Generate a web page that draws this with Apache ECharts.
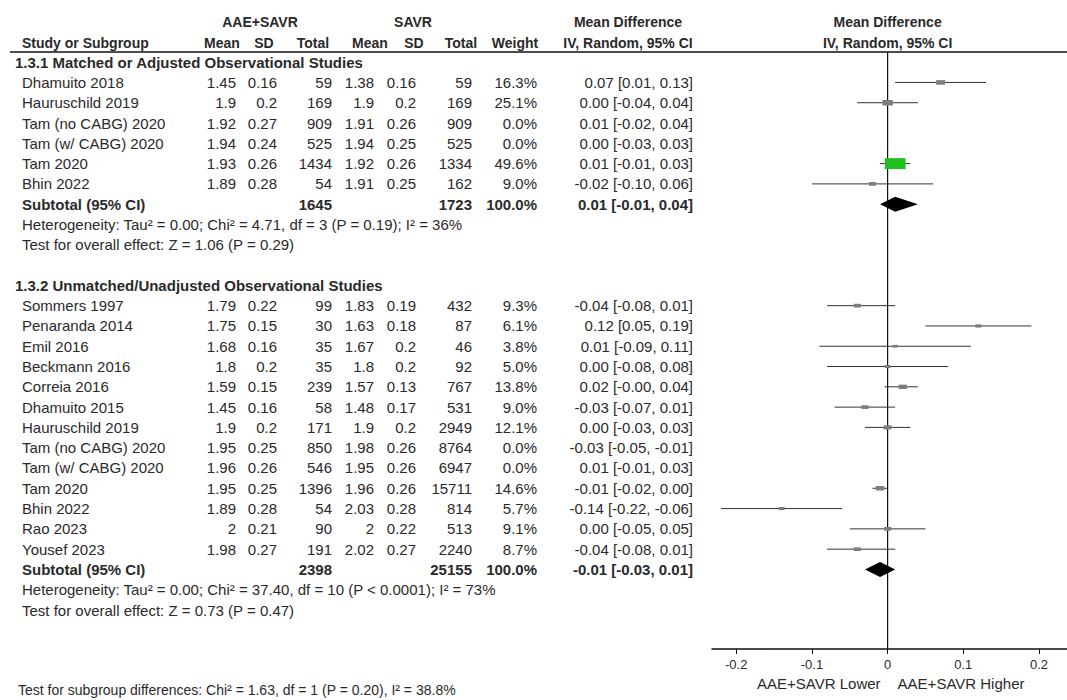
<!DOCTYPE html>
<html>
<head>
<meta charset="utf-8">
<script src="https://cdn.jsdelivr.net/npm/echarts@6/dist/echarts.min.js"></script>
<style>
  html, body { margin: 0; padding: 0; background: #ffffff; }
  #chart { width: 1067px; height: 700px; }
</style>
</head>
<body>
<div id="chart"></div>
<script>
// ---- Subgroup 1.3.1: matched or adjusted observational studies ----
const g1Title = '1.3.1 Matched or Adjusted Observational Studies';
const g1Study = ['Dhamuito 2018', 'Hauruschild 2019', 'Tam (no CABG) 2020', 'Tam (w/ CABG) 2020', 'Tam 2020', 'Bhin 2022'];
const g1ExpMean = [1.45, 1.9, 1.92, 1.94, 1.93, 1.89];
const g1ExpSD = [0.16, 0.2, 0.27, 0.24, 0.26, 0.28];
const g1ExpN = [59, 169, 909, 525, 1434, 54];
const g1CtlMean = [1.38, 1.9, 1.91, 1.94, 1.92, 1.91];
const g1CtlSD = [0.16, 0.2, 0.26, 0.25, 0.26, 0.25];
const g1CtlN = [59, 169, 909, 525, 1334, 162];
const g1Weight = [16.3, 25.1, 0, 0, 49.6, 9.0];
const g1MD = [0.07, 0.00, 0.01, 0.00, 0.01, -0.02];
const g1Low = [0.01, -0.04, -0.02, -0.03, -0.01, -0.10];
const g1High = [0.13, 0.04, 0.04, 0.03, 0.03, 0.06];
const g1Totals = [1645, 1723];
const g1Pooled = [0.01, -0.01, 0.04];
const g1Het = 'Heterogeneity: Tau\u00b2 = 0.00; Chi\u00b2 = 4.71, df = 3 (P = 0.19); I\u00b2 = 36%';
const g1Effect = 'Test for overall effect: Z = 1.06 (P = 0.29)';

// ---- Subgroup 1.3.2: unmatched / unadjusted observational studies ----
const g2Title = '1.3.2 Unmatched/Unadjusted Observational Studies';
const g2Study = ['Sommers 1997', 'Penaranda 2014', 'Emil 2016', 'Beckmann 2016', 'Correia 2016', 'Dhamuito 2015',
  'Hauruschild 2019', 'Tam (no CABG) 2020', 'Tam (w/ CABG) 2020', 'Tam 2020', 'Bhin 2022', 'Rao 2023', 'Yousef 2023'];
const g2ExpMean = [1.79, 1.75, 1.68, 1.8, 1.59, 1.45, 1.9, 1.95, 1.96, 1.95, 1.89, 2, 1.98];
const g2ExpSD = [0.22, 0.15, 0.16, 0.2, 0.15, 0.16, 0.2, 0.25, 0.26, 0.25, 0.28, 0.21, 0.27];
const g2ExpN = [99, 30, 35, 35, 239, 58, 171, 850, 546, 1396, 54, 90, 191];
const g2CtlMean = [1.83, 1.63, 1.67, 1.8, 1.57, 1.48, 1.9, 1.98, 1.95, 1.96, 2.03, 2, 2.02];
const g2CtlSD = [0.19, 0.18, 0.2, 0.2, 0.13, 0.17, 0.2, 0.26, 0.26, 0.26, 0.28, 0.22, 0.27];
const g2CtlN = [432, 87, 46, 92, 767, 531, 2949, 8764, 6947, 15711, 814, 513, 2240];
const g2Weight = [9.3, 6.1, 3.8, 5.0, 13.8, 9.0, 12.1, 0, 0, 14.6, 5.7, 9.1, 8.7];
const g2MD = [-0.04, 0.12, 0.01, 0.00, 0.02, -0.03, 0.00, -0.03, 0.01, -0.01, -0.14, 0.00, -0.04];
const g2Low = [-0.08, 0.05, -0.09, -0.08, -0.004, -0.07, -0.03, -0.05, -0.01, -0.02, -0.22, -0.05, -0.08];
const g2High = [0.01, 0.19, 0.11, 0.08, 0.04, 0.01, 0.03, -0.01, 0.03, 0.00, -0.06, 0.05, 0.01];
const g2Totals = [2398, 25155];
const g2Pooled = [-0.01, -0.03, 0.01];
const g2Het = 'Heterogeneity: Tau\u00b2 = 0.00; Chi\u00b2 = 37.40, df = 10 (P < 0.0001); I\u00b2 = 73%';
const g2Effect = 'Test for overall effect: Z = 0.73 (P = 0.47)';

// ---- Axis and footer ----
const xTicks = [-0.2, -0.1, 0, 0.1, 0.2];
const xTickLabels = ['-0.2', '-0.1', '0', '0.1', '0.2'];
const favoursLeft = 'AAE+SAVR Lower';
const favoursRight = 'AAE+SAVR Higher';
const subgroupTest = 'Test for subgroup differences: Chi\u00b2 = 1.63, df = 1 (P = 0.20), I\u00b2 = 38.8%';

// ---- Layout constants ----
const FONT = "'Liberation Sans', Arial, sans-serif";
const TXT = '#2a2a2a';
const FS = 15;       // body text
const FS_HEAD = 14;  // column headers (bold)
// right edges of the numeric columns
const COL = { name: 22, title: 15, expMean: 236, expSD: 277, expN: 332, ctlMean: 374, ctlSD: 416, ctlN: 472, weight: 537, ci: 693 };
// centres of the column headers
const HEAD = { expMean: 222, expSD: 264, expN: 313, ctlMean: 370, ctlSD: 414, ctlN: 461, weight: 515, ci: 628, exp: 260, ctl: 413 };

const fmt2 = v => v.toFixed(2);
const ciText = (m, l, h) => fmt2(m) + ' [' + fmt2(l) + ', ' + fmt2(h) + ']';

// Table rows, each placed on a row index of the (hidden) y axis
const rows = [];
rows.push({ row: -1.97, kind: 'head1' });
rows.push({ row: -0.93, kind: 'head2' });
rows.push({ row: -0.5, kind: 'rule' });

function addGroup(start, title, study, em, esd, en, cm, csd, cn, w, md, lo, hi, totals, pooled, het, eff) {
  rows.push({ row: start, kind: 'title', text: title });
  study.forEach((s, i) => {
    rows.push({
      row: start + 1 + i, kind: 'study', name: s,
      cells: [String(em[i]), String(esd[i]), String(en[i]), String(cm[i]), String(csd[i]), String(cn[i]),
        w[i].toFixed(1) + '%', ciText(md[i], lo[i], hi[i])]
    });
  });
  const sub = start + 1 + study.length;
  rows.push({ row: sub, kind: 'subtotal', expN: totals[0], ctlN: totals[1], ci: ciText(pooled[0], pooled[1], pooled[2]) });
  rows.push({ row: sub + 1, kind: 'note', text: het });
  rows.push({ row: sub + 2, kind: 'note', text: eff });
}
addGroup(0, g1Title, g1Study, g1ExpMean, g1ExpSD, g1ExpN, g1CtlMean, g1CtlSD, g1CtlN, g1Weight, g1MD, g1Low, g1High, g1Totals, g1Pooled, g1Het, g1Effect);
addGroup(11, g2Title, g2Study, g2ExpMean, g2ExpSD, g2ExpN, g2CtlMean, g2CtlSD, g2CtlN, g2Weight, g2MD, g2Low, g2High, g2Totals, g2Pooled, g2Het, g2Effect);
rows.push({ row: 30.6, kind: 'favours' });
rows.push({ row: 30.95, kind: 'footer', text: subgroupTest });

// Forest plot marks: [md, row, low, high, weight]
const studyMarks = [];
g1MD.forEach((m, i) => { if (g1Weight[i] > 0) studyMarks.push([m, 1 + i, g1Low[i], g1High[i], g1Weight[i]]); });
g2MD.forEach((m, i) => { if (g2Weight[i] > 0) studyMarks.push([m, 12 + i, g2Low[i], g2High[i], g2Weight[i]]); });
const maxWeight = Math.max.apply(null, studyMarks.map(d => d[4]));
const pooledMarks = [
  [g1Pooled[0], 1 + g1Study.length, g1Pooled[1], g1Pooled[2]],
  [g2Pooled[0], 12 + g2Study.length, g2Pooled[1], g2Pooled[2]]
];

function txt(x, y, text, align, bold, size) {
  return {
    type: 'text', x: x, y: y,
    style: {
      text: text, fill: TXT, align: align || 'left', verticalAlign: 'middle',
      font: (bold ? 'bold ' : '') + (size || FS) + 'px ' + FONT
    }
  };
}

function renderTable(params, api) {
  const r = rows[params.dataIndex];
  const p = api.coord([0, r.row]);
  const y = p[1], x0 = p[0];
  const kids = [];
  if (r.kind === 'head1') {
    kids.push(txt(HEAD.exp, y, 'AAE+SAVR', 'center', true, FS_HEAD));
    kids.push(txt(HEAD.ctl, y, 'SAVR', 'center', true, FS_HEAD));
    kids.push(txt(HEAD.ci, y, 'Mean Difference', 'center', true, FS_HEAD));
    kids.push(txt(x0, y, 'Mean Difference', 'center', true, FS_HEAD));
  } else if (r.kind === 'head2') {
    kids.push(txt(COL.name, y, 'Study or Subgroup', 'left', true, FS_HEAD));
    kids.push(txt(HEAD.expMean, y, 'Mean', 'center', true, FS_HEAD));
    kids.push(txt(HEAD.expSD, y, 'SD', 'center', true, FS_HEAD));
    kids.push(txt(HEAD.expN, y, 'Total', 'center', true, FS_HEAD));
    kids.push(txt(HEAD.ctlMean, y, 'Mean', 'center', true, FS_HEAD));
    kids.push(txt(HEAD.ctlSD, y, 'SD', 'center', true, FS_HEAD));
    kids.push(txt(HEAD.ctlN, y, 'Total', 'center', true, FS_HEAD));
    kids.push(txt(HEAD.weight, y, 'Weight', 'center', true, FS_HEAD));
    kids.push(txt(HEAD.ci, y, 'IV, Random, 95% CI', 'center', true, FS_HEAD));
    kids.push(txt(x0, y, 'IV, Random, 95% CI', 'center', true, FS_HEAD));
  } else if (r.kind === 'rule') {
    kids.push({ type: 'line', shape: { x1: 10, y1: y, x2: 1067, y2: y }, style: { stroke: '#111', lineWidth: 1.5 } });
  } else if (r.kind === 'title') {
    kids.push(txt(COL.title, y, r.text, 'left', true));
  } else if (r.kind === 'study') {
    kids.push(txt(COL.name, y, r.name, 'left'));
    const xs = [COL.expMean, COL.expSD, COL.expN, COL.ctlMean, COL.ctlSD, COL.ctlN, COL.weight, COL.ci];
    r.cells.forEach((c, i) => kids.push(txt(xs[i], y, c, 'right')));
  } else if (r.kind === 'subtotal') {
    kids.push(txt(COL.name, y, 'Subtotal (95% CI)', 'left', true));
    kids.push(txt(COL.expN, y, String(r.expN), 'right', true));
    kids.push(txt(COL.ctlN, y, String(r.ctlN), 'right', true));
    kids.push(txt(COL.weight, y, '100.0%', 'right', true));
    kids.push(txt(COL.ci, y, r.ci, 'right', true));
  } else if (r.kind === 'note') {
    kids.push(txt(COL.name, y, r.text, 'left'));
  } else if (r.kind === 'favours') {
    kids.push(txt(x0 - 7, y, favoursLeft, 'right'));
    kids.push(txt(x0 + 10, y, favoursRight, 'left'));
  } else if (r.kind === 'footer') {
    kids.push(txt(18, y, r.text, 'left', false, 14));
  }
  return { type: 'group', children: kids };
}

function renderStudy(params, api) {
  const c = api.coord([api.value(0), api.value(1)]);
  const lo = api.coord([api.value(2), api.value(1)]);
  const hi = api.coord([api.value(3), api.value(1)]);
  const wt = api.value(4);
  const big = wt === maxWeight;
  const h = big ? 1.55 * Math.sqrt(wt) : 0.9 * Math.sqrt(wt) + 1;
  const w = 1.9 * h;
  return {
    type: 'group',
    children: [
      { type: 'line', shape: { x1: lo[0], y1: c[1], x2: hi[0], y2: c[1] }, style: { stroke: '#333', lineWidth: 1 } },
      { type: 'rect', shape: { x: c[0] - w / 2, y: c[1] - h / 2, width: w, height: h }, style: { fill: big ? '#1fbf1f' : '#7d7d7d' } }
    ]
  };
}

function renderPooled(params, api) {
  const c = api.coord([api.value(0), api.value(1)]);
  const lo = api.coord([api.value(2), api.value(1)]);
  const hi = api.coord([api.value(3), api.value(1)]);
  const half = 7.5;
  return {
    type: 'polygon',
    shape: { points: [[lo[0], c[1]], [c[0], c[1] - half], [hi[0], c[1]], [c[0], c[1] + half]] },
    style: { fill: '#000' }
  };
}

const chart = echarts.init(document.getElementById('chart'), null, { renderer: 'svg' });
chart.setOption({
  animation: false,
  backgroundColor: '#ffffff',
  grid: { left: 712, right: 0, top: 52, bottom: 51, containLabel: false },
  xAxis: {
    type: 'value', min: -0.232, max: 0.237,
    splitLine: { show: false },
    axisLine: { show: true, onZero: false, lineStyle: { color: '#111', width: 1.5 } },
    axisTick: { show: true, customValues: xTicks, length: 5, lineStyle: { color: '#111' } },
    axisLabel: {
      customValues: xTicks, margin: 9, color: '#2a2a2a', fontSize: 13, fontFamily: FONT,
      formatter: v => xTickLabels[xTicks.findIndex(t => Math.abs(t - v) < 1e-9)]
    }
  },
  yAxis: { type: 'value', inverse: true, min: -0.5, max: 28.92, show: false },
  series: [
    {
      type: 'line', data: [[0, -0.5], [0, 28.92]], symbol: 'none', silent: true,
      lineStyle: { color: '#111', width: 1.2 }, z: 1
    },
    { type: 'custom', data: studyMarks, renderItem: renderStudy, encode: { x: 0, y: 1 }, z: 2, silent: true },
    { type: 'custom', data: pooledMarks, renderItem: renderPooled, encode: { x: 0, y: 1 }, z: 3, silent: true },
    {
      type: 'custom', data: rows.map(r => [0, r.row]), renderItem: renderTable,
      encode: { x: 0, y: 1 }, z: 4, silent: true, clip: false
    }
  ]
});
</script>
</body>
</html>
